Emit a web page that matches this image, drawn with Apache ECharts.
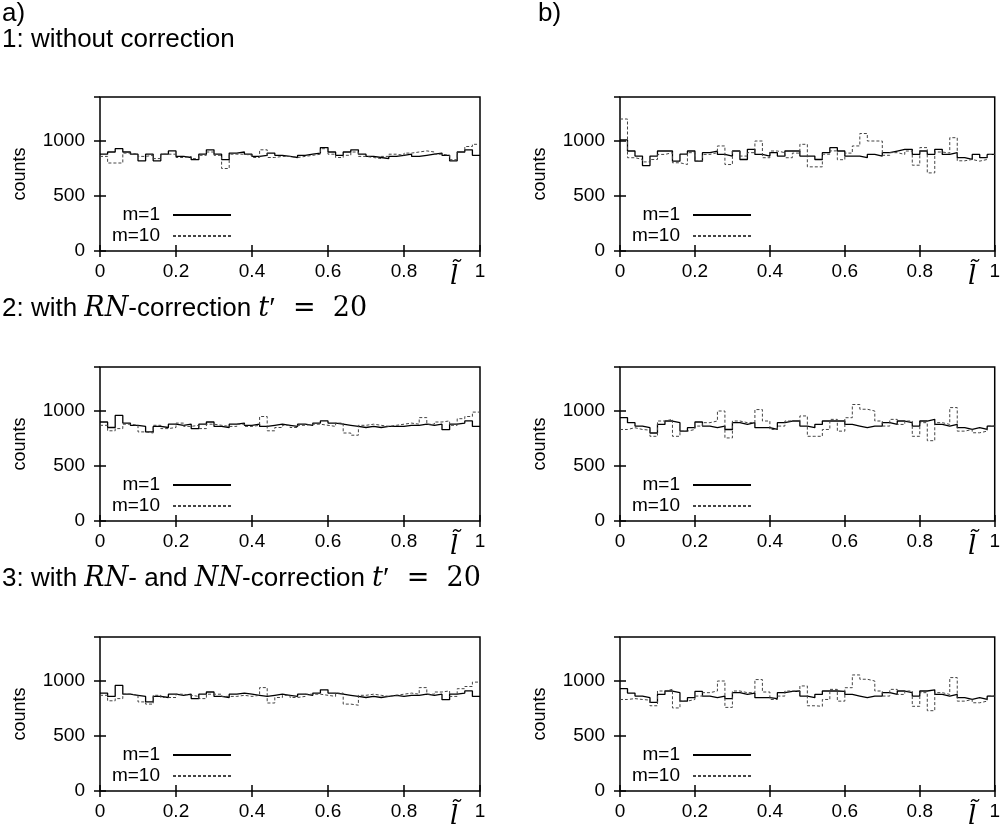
<!DOCTYPE html>
<html><head><meta charset="utf-8">
<script src="https://cdn.jsdelivr.net/npm/echarts@6/dist/echarts.min.js"></script>
<style>html,body{margin:0;padding:0;background:#fff}#c{width:1003px;height:839px}</style>
</head><body><div id="c"></div>
<script>
// ---------- data (50 bins of width 0.02 over l~ in [0,1]) ----------
const binWidth = 0.02;
const xTickLabels = ['0', '0.2', '0.4', '0.6', '0.8', '1'];
const yTickLabels = ['0', '500', '1000'];
const seriesNames = ['m=1', 'm=10'];
const rowTitles = ['1: without correction', '2: with RN-correction t′ = 20', '3: with RN- and NN-correction t′ = 20'];

const a1_m1 = [880,900,930,900,880,820,880,820,880,910,860,850,830,880,920,880,830,890,900,880,860,870,890,870,860,850,870,880,890,940,900,870,900,920,880,860,850,840,860,870,880,860,870,880,890,870,820,900,920,870];
const a1_m10 = [860,800,800,890,880,860,870,840,880,880,850,860,840,870,900,870,750,880,880,870,850,920,850,860,860,850,860,870,880,930,880,850,870,900,860,850,840,860,880,870,890,900,910,900,880,870,830,900,950,970];

const a2_m1 = [900,850,960,890,870,860,810,860,850,880,870,880,840,880,900,860,850,880,890,870,880,860,870,880,870,860,880,870,890,910,890,880,870,860,850,860,850,860,860,860,870,870,880,870,880,830,880,890,910,860];
const a2_m10 = [870,820,840,880,870,810,800,870,840,850,890,860,870,840,880,870,860,860,880,860,870,950,820,850,870,850,870,880,880,870,860,890,800,780,870,880,870,860,870,880,890,880,940,880,900,910,870,930,950,990];

const a3_m1 = [890,860,960,880,870,860,810,860,850,880,870,880,840,880,900,860,850,880,890,880,870,860,870,880,870,860,880,870,890,920,890,880,870,860,850,860,850,860,870,860,870,870,880,870,880,830,880,890,910,860];
const a3_m10 = [870,820,840,880,870,810,790,870,850,850,880,870,860,840,880,880,860,860,870,860,870,940,800,850,870,850,860,880,880,870,860,890,790,780,870,880,870,860,870,880,890,880,940,880,900,910,860,930,950,990];

const b1_m1 = [1010,909,863,777,863,909,909,817,880,909,817,894,909,878,863,909,832,924,878,863,894,863,909,909,863,863,832,894,939,909,863,863,848,878,863,894,909,924,924,878,909,878,924,878,894,848,832,878,848,878];
const b1_m10 = [1200,848,832,810,832,878,894,802,786,894,817,878,894,955,786,909,863,894,1000,848,909,894,848,890,970,765,765,880,910,830,890,955,1068,1000,1000,870,894,878,909,780,940,710,900,890,1030,820,832,817,832,878];

const b2_m1 = [939,894,863,848,800,878,909,894,817,848,900,863,848,863,832,894,878,894,848,848,832,894,909,909,863,848,878,909,909,909,878,863,848,863,863,894,878,909,894,863,909,924,878,863,878,848,832,848,832,863];
const b2_m10 = [832,848,832,826,770,909,924,770,817,832,863,894,909,1000,755,909,894,894,1013,909,832,863,909,909,955,770,770,832,924,817,939,1059,1016,1000,909,863,924,878,909,770,894,730,894,878,1031,817,832,802,817,863];

const b3_m1 = [930,890,863,848,805,878,909,894,817,848,905,863,848,863,840,894,878,890,848,848,840,894,905,909,863,848,878,909,909,905,878,863,848,863,863,894,878,909,894,863,909,920,878,863,878,848,832,848,832,863];
const b3_m10 = [832,840,832,826,775,909,924,755,817,832,863,894,909,1000,760,909,894,894,1013,900,832,863,909,905,955,775,770,832,924,817,939,1055,1016,1000,909,863,924,878,909,770,894,730,894,878,1031,817,832,802,817,863];

const panels = [
  {m1: a1_m1, m10: a1_m10, col: 0, row: 0},
  {m1: b1_m1, m10: b1_m10, col: 1, row: 0},
  {m1: a2_m1, m10: a2_m10, col: 0, row: 1},
  {m1: b2_m1, m10: b2_m10, col: 1, row: 1},
  {m1: a3_m1, m10: a3_m10, col: 0, row: 2},
  {m1: b3_m1, m10: b3_m10, col: 1, row: 2}
];

// ---------- layout ----------
const W = 1003;
const gridLefts = [100, 620];
const gridWidths = [380, 378];
const gridTops = [97, 367, 637];
const gridHeight = 154;
const labelFont = 'Liberation Sans, Arial, sans-serif';
const mathFont = 'DejaVu Serif, Liberation Serif, serif';
const primeFont = 'Liberation Serif, DejaVu Serif, serif';

function steps(vals) {
  const pts = vals.map((v, i) => [+(i * binWidth).toFixed(2), v]);
  pts.push([1, vals[vals.length - 1]]);
  return pts;
}

const grid = [], xAxis = [], yAxis = [], series = [], legend = [], graphic = [];

panels.forEach((p, k) => {
  const left = gridLefts[p.col], width = gridWidths[p.col], top = gridTops[p.row];
  grid.push({left: left, top: top, width: width, height: gridHeight,
    show: true, borderColor: '#000', borderWidth: 1.5, backgroundColor: 'transparent'});
  const xi = xAxis.length, yi = yAxis.length;
  xAxis.push({type: 'value', gridIndex: k, min: 0, max: 1, interval: 0.2, position: 'bottom',
    axisLine: {show: false}, splitLine: {show: false},
    axisTick: {inside: true, length: 6, lineStyle: {color: '#000', width: 1.5}},
    axisLabel: {margin: 11, color: '#000', fontSize: 19, fontFamily: labelFont,
      formatter: v => xTickLabels[Math.round(v / 0.2)]}});
  xAxis.push({type: 'value', gridIndex: k, min: 0, max: 1, interval: 0.2, position: 'top',
    axisLine: {show: false}, splitLine: {show: false}, axisLabel: {show: false},
    axisTick: {inside: true, length: 6, lineStyle: {color: '#000', width: 1.5}}});
  yAxis.push({type: 'value', gridIndex: k, min: 0, max: 1400, interval: 500, position: 'left',
    name: 'counts', nameLocation: 'middle', nameRotate: 90, nameGap: 71,
    nameTextStyle: {color: '#000', fontSize: 18, fontFamily: labelFont},
    axisLine: {show: false}, splitLine: {show: false},
    axisTick: {inside: true, length: 6, lineStyle: {color: '#000', width: 1.5}},
    axisLabel: {margin: 15, color: '#000', fontSize: 19, fontFamily: labelFont, showMaxLabel: false,
      formatter: v => (v % 500 === 0 && v <= 1000) ? yTickLabels[v / 500] : ''}});
  yAxis.push({type: 'value', gridIndex: k, min: 0, max: 1400, interval: 500, position: 'right',
    axisLine: {show: false}, splitLine: {show: false}, axisLabel: {show: false},
    axisTick: {inside: true, length: 6, lineStyle: {color: '#000', width: 1.5}}});

  series.push({name: seriesNames[0], type: 'line', xAxisIndex: xi, yAxisIndex: yi, step: 'end',
    symbol: 'none', silent: true, data: steps(p.m1),
    lineStyle: {color: '#000', width: 1.3, type: 'solid'}, itemStyle: {color: '#000'}});
  series.push({name: seriesNames[1], type: 'line', xAxisIndex: xi, yAxisIndex: yi, step: 'end',
    symbol: 'none', silent: true, data: steps(p.m10),
    lineStyle: {color: '#444', width: 1, type: [3, 2]}, itemStyle: {color: '#444'}});

  legend.push({data: seriesNames, orient: 'vertical', align: 'right', padding: 0,
    right: W - (left + 132), top: top + 108, itemWidth: 58, itemHeight: 10, itemGap: 1,
    selectedMode: false, itemStyle: {opacity: 0},
    textStyle: {color: '#000', fontSize: 19, fontFamily: labelFont, padding: [0, 8, 0, 0], lineHeight: 20}});

  graphic.push({type: 'text', left: left + width - 30, top: top + gridHeight + 13,
    style: {text: 'l\u0303', font: 'italic 26px ' + mathFont, fill: '#000'}});
});

const sansRich = {fontSize: 26, fontFamily: labelFont};
const mathRich = {fontSize: 27, fontFamily: mathFont, fontStyle: 'italic'};
const primeRich = {fontSize: 30, fontFamily: primeFont};
const romRich = {fontSize: 27, fontFamily: mathFont};
graphic.push({type: 'text', left: 2, top: 1, style: {text: 'a)', font: '26px ' + labelFont, fill: '#000'}});
graphic.push({type: 'text', left: 538, top: 1, style: {text: 'b)', font: '26px ' + labelFont, fill: '#000'}});
graphic.push({type: 'text', left: 2, top: 27, style: {text: rowTitles[0], font: '26px ' + labelFont, fill: '#000'}});
graphic.push({type: 'text', left: 2, top: 294, style: {
  text: '{s|2: with }{m|RN}{s|-correction }{m|t}{p|′}{r|  =  20}',
  rich: {s: sansRich, m: mathRich, p: primeRich, r: romRich}, fill: '#000'}});
graphic.push({type: 'text', left: 2, top: 564, style: {
  text: '{s|3: with }{m|RN}{s|- and }{m|NN}{s|-correction }{m|t}{p|′}{r|  =  20}',
  rich: {s: sansRich, m: mathRich, p: primeRich, r: romRich}, fill: '#000'}});

const chart = echarts.init(document.getElementById('c'), null, {renderer: 'canvas'});
chart.setOption({animation: false, backgroundColor: '#fff', grid, xAxis, yAxis, series, legend, graphic});
</script></body></html>
